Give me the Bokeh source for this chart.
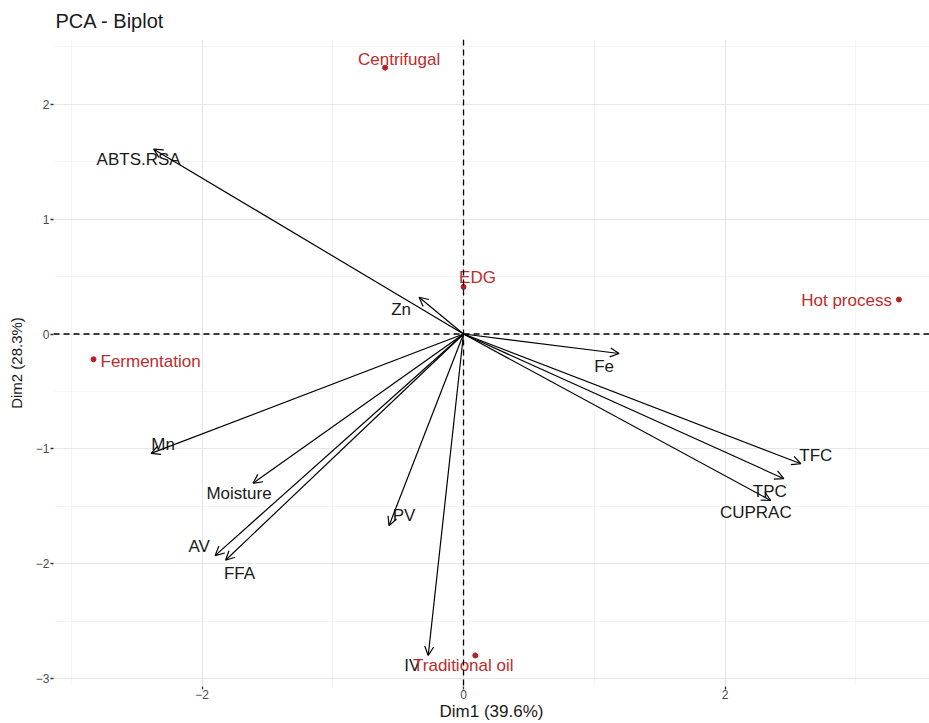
from bokeh.plotting import figure
from bokeh.models import ColumnDataSource, Arrow, OpenHead, Span, FixedTicker, Range1d
from bokeh.embed import file_html
from bokeh.resources import INLINE
from bokeh.core.properties import value

# ---- data ----
var_names = ["ABTS.RSA", "Zn", "Fe", "TFC", "TPC", "CUPRAC",
             "Mn", "Moisture", "AV", "FFA", "PV", "IV"]
var_dim1 = [-2.37, -0.34, 1.19, 2.58, 2.45, 2.35,
            -2.39, -1.61, -1.90, -1.82, -0.57, -0.27]
var_dim2 = [1.61, 0.32, -0.17, -1.13, -1.26, -1.45,
            -1.04, -1.30, -1.93, -1.97, -1.67, -2.80]

ind_names = ["Centrifugal", "EDG", "Hot process", "Fermentation", "Traditional oil"]
ind_dim1 = [-0.60, 0.00, 3.33, -2.83, 0.09]
ind_dim2 = [2.32, 0.41, 0.30, -0.22, -2.80]

x_ticks = [-2, 0, 2]
y_ticks = [-3, -2, -1, 0, 1, 2]
x_minor = [-3, -1, 1, 3]
y_minor = [-2.5, -1.5, -0.5, 0.5, 1.5, 2.5]

x_label = "Dim1 (39.6%)"
y_label = "Dim2 (28.3%)"
title = "PCA - Biplot"

# ---- label placement (screen px, like ggrepel) ----
var_dx = [-15, -18, -15, 15, -14, -15, 12, -14, -16, 14, 15, -16]
var_dy = [10, 12, 13, -8, 13, 12, -9, 10, -9, 13, -10, 10]
ind_dx = [14, 14, -7, 7, -12]
ind_dy = [-8, -9, 1, 2, 10]
ind_align = ["center", "center", "right", "left", "center"]

FONT = "Liberation Sans"
RED = "#B22222"
RED_TEXT = "#BC2C2C"

p = figure(width=929, height=723, output_backend="svg", toolbar_location=None,
           x_range=Range1d(-3.136, 3.564), y_range=Range1d(-3.07, 2.565),
           min_border_left=53, min_border_right=0, min_border_top=37,
           min_border_bottom=34)
p.outline_line_color = None
p.background_fill_color = "white"
p.border_fill_color = "white"

p.title.text = title
p.title.text_font = FONT
p.title.text_font_size = "20px"
p.title.text_font_style = "normal"
p.title.text_color = "#1a1a1a"
p.title.align = "left"
p.title.offset = 2
p.title.standoff = 15

p.xaxis.ticker = FixedTicker(ticks=x_ticks, minor_ticks=x_minor)
p.yaxis.ticker = FixedTicker(ticks=y_ticks, minor_ticks=y_minor)
p.xgrid.ticker = FixedTicker(ticks=x_ticks, minor_ticks=x_minor)
p.ygrid.ticker = FixedTicker(ticks=y_ticks, minor_ticks=y_minor)
for g in (p.xgrid, p.ygrid):
    g.grid_line_color = "#E6E6E6"
    g.grid_line_width = 1.1
    g.minor_grid_line_color = "#EFEFEF"
    g.minor_grid_line_width = 0.6

for ax in (p.xaxis, p.yaxis):
    ax.axis_line_color = None
    ax.major_tick_line_color = "#333333"
    ax.major_tick_line_width = 1.3
    ax.major_tick_in = 0
    ax.major_tick_out = 3
    ax.minor_tick_out = 0
    ax.minor_tick_in = 0
    ax.major_label_text_font = FONT
    ax.major_label_text_font_size = "12px"
    ax.major_label_text_color = "#4D4D4D"
    ax.major_label_standoff = 1
    ax.axis_label_text_font = FONT
    ax.axis_label_text_font_style = "normal"
    ax.axis_label_text_color = "#1a1a1a"
p.xaxis.axis_label = x_label
p.yaxis.axis_label = y_label
p.xaxis.axis_label_text_font_size = "17px"
p.yaxis.axis_label_text_font_size = "15px"
p.xaxis.major_label_standoff = 0
p.xaxis.axis_label_standoff = 0
p.yaxis.axis_label_standoff = 8

# reference lines
p.add_layout(Span(location=0, dimension="height", line_color="black",
                  line_width=1.3, line_dash="6 4"))
p.add_layout(Span(location=0, dimension="width", line_color="black",
                  line_width=1.3, line_dash="6 4"))

# variable arrows
vsrc = ColumnDataSource(dict(x0=[0.0] * len(var_names), y0=[0.0] * len(var_names),
                             x=var_dim1, y=var_dim2, name=var_names,
                             dx=var_dx, dy=var_dy))
p.add_layout(Arrow(end=OpenHead(size=9, line_width=1.2, line_color="black"),
                   x_start="x0", y_start="y0", x_end="x", y_end="y",
                   source=vsrc, line_width=1.2, line_color="black"))
p.text(x="x", y="y", text="name", source=vsrc, x_offset="dx", y_offset="dy",
       text_font=value(FONT), text_font_size="17px", text_color="#1a1a1a",
       text_align="center", text_baseline="middle")

# individuals
isrc = ColumnDataSource(dict(x=ind_dim1, y=ind_dim2, name=ind_names,
                             dx=ind_dx, dy=ind_dy, al=ind_align))
p.scatter(x="x", y="y", source=isrc, size=5, color=RED)
p.text(x="x", y="y", text="name", source=isrc, x_offset="dx", y_offset="dy",
       text_font=value(FONT), text_font_size="17px", text_color=RED_TEXT,
       text_align="al", text_baseline="middle")

open("out.html", "w").write(file_html(p, INLINE))
